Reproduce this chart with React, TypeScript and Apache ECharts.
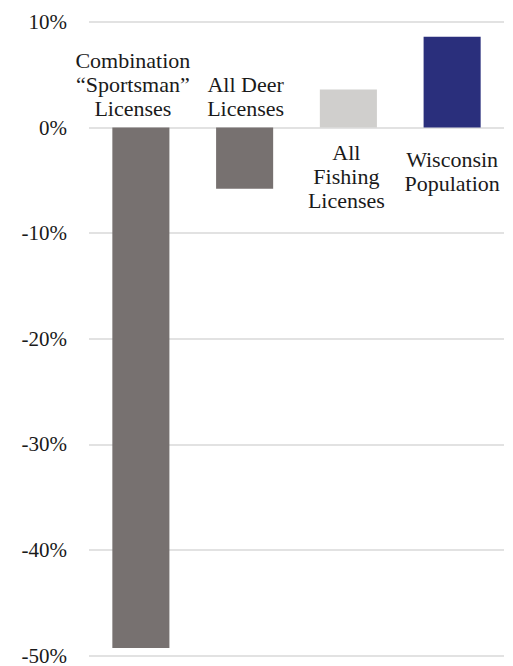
import React, { useEffect, useRef } from "react";
import * as echarts from "echarts";

const categories = [
  "Combination\n“Sportsman”\nLicenses",
  "All Deer\nLicenses",
  "All\nFishing\nLicenses",
  "Wisconsin\nPopulation",
];
const values = [-49.3, -5.8, 3.6, 8.6];
const barColors = ["#777170", "#777170", "#d0cfcd", "#2a2f7c"];
const yMin = -50;
const yMax = 10;
const yInterval = 10;

const labelDistance = [7, 7, 13, 20];
const labelOffsetX = [-8, 1, -2, 0];

export default function App() {
  const ref = useRef<HTMLDivElement>(null);
  useEffect(() => {
    if (!ref.current) return;
    const chart = echarts.init(ref.current, null, { renderer: "svg" });
    const font = "Liberation Serif";
    chart.setOption({
      animation: false,
      grid: { left: 81, right: 9, top: 14, bottom: 7, containLabel: false },
      xAxis: {
        type: "category",
        data: categories,
        axisLine: { show: false },
        axisTick: { show: false },
        axisLabel: { show: false },
      },
      yAxis: {
        type: "value",
        min: yMin,
        max: yMax,
        interval: yInterval,
        axisLine: { show: false },
        axisTick: { show: false },
        axisLabel: {
          formatter: "{value}%",
          fontFamily: font,
          fontSize: 21,
          color: "#1a1a1a",
          margin: 22,
        },
        splitLine: { lineStyle: { color: "#e2e2e2", width: 2 } },
      },
      series: [
        {
          type: "bar",
          barWidth: "55%",
          data: values.map((v, i) => ({ value: v, itemStyle: { color: barColors[i] } })),
        },
        {
          type: "scatter",
          symbolSize: 0,
          silent: true,
          itemStyle: { opacity: 1 },
          data: values.map((v, i) => ({
            value: [categories[i], 0],
            label: {
              show: true,
              position: v < 0 ? "top" : "bottom",
              distance: labelDistance[i],
              offset: [labelOffsetX[i], 0],
              formatter: categories[i],
              fontFamily: font,
              fontSize: 22,
              lineHeight: 24,
              color: "#1a1a1a",
              align: "center",
            },
          })),
        },
      ],
    });
    return () => chart.dispose();
  }, []);
  return <div ref={ref} style={{ width: 505, height: 658 }} />;
}
